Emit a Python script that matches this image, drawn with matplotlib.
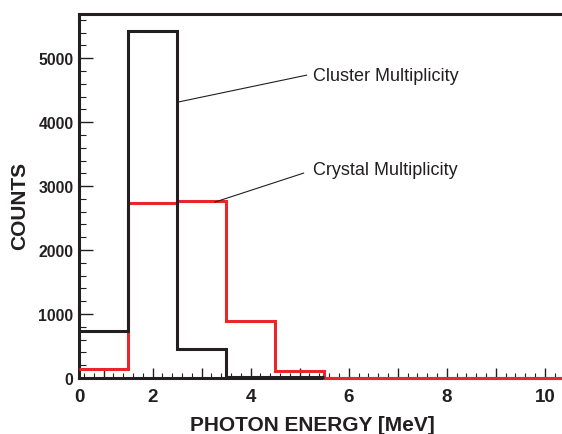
"""Photon energy spectra: cluster vs crystal multiplicity."""

import matplotlib
matplotlib.use("Agg")
import matplotlib.pyplot as plt
from matplotlib.ticker import MultipleLocator

plt.rcParams["font.family"] = ["Liberation Sans", "DejaVu Sans"]

INK = "#231f20"
RED = "#e8262c"

# histogram bins (MeV) and counts
cluster_edges = [0.5, 1.5, 2.5, 3.5, 4.5, 5.5]
cluster_counts = [740, 5420, 450, 18, 10]
crystal_edges = [0.5, 1.5, 2.5, 3.5, 4.5, 5.5, 6.5, 7.5, 8.5, 9.5, 10.5]
crystal_counts = [140, 2740, 2760, 890, 105, 8, 5, 3, 2, 1]

x_ticks = [0.5, 1, 2, 3, 4, 5, 6, 7, 8, 9, 10]
x_tick_labels = ["0", "", "2", "", "4", "", "6", "", "8", "", "10"]
y_ticks = [0, 1000, 2000, 3000, 4000, 5000]

fig = plt.figure(figsize=(5.62, 4.35), dpi=100)
ax = fig.add_axes([0.1406, 0.1287, 0.8594, 0.8368])

ax.set_xlim(0.5, 10.35)
ax.set_ylim(0, 5690)

red = ax.stairs(crystal_counts, crystal_edges, baseline=None, color=RED, lw=2.2, zorder=3)
blk = ax.stairs(cluster_counts, cluster_edges, baseline=None, color=INK, lw=2.2, zorder=4)
red.set_clip_on(False)
blk.set_clip_on(False)

ax.set_xticks(x_ticks)
ax.set_xticklabels(x_tick_labels)
ax.xaxis.set_minor_locator(MultipleLocator(0.2))
ax.set_yticks(y_ticks)
ax.yaxis.set_minor_locator(MultipleLocator(200))

ax.tick_params(axis="x", which="major", direction="in", length=7, width=1.0,
               colors=INK, labelsize=13.5, pad=7)
ax.tick_params(axis="x", which="minor", direction="in", length=3.5, width=0.8, colors=INK)
ax.tick_params(axis="y", which="major", direction="in", length=10, width=1.0,
               colors=INK, labelsize=11.4, pad=4)
ax.tick_params(axis="y", which="minor", direction="in", length=5, width=0.8, colors=INK)
for lbl in ax.get_xticklabels() + ax.get_yticklabels():
    lbl.set_fontweight("bold")

ax.spines["right"].set_visible(False)
for side in ("left", "bottom", "top"):
    ax.spines[side].set_linewidth(2.2)
    ax.spines[side].set_color(INK)

ax.set_xlabel("PHOTON ENERGY [MeV]", fontsize=15, fontweight="bold", color=INK)
ax.xaxis.set_label_coords(0.483, -0.101)
ax.set_ylabel("COUNTS", fontsize=15, fontweight="bold", color=INK)
ax.yaxis.set_label_coords(-0.104, 0.475)

# leader lines and labels
ax.plot([2.51, 5.14], [4312, 4734], color=INK, lw=0.8, zorder=5)
ax.text(5.27, 4656, "Cluster Multiplicity", fontsize=13, color=INK, va="baseline")
ax.plot([3.27, 5.08], [2750, 3203], color=INK, lw=0.8, zorder=5)
ax.text(5.27, 3187, "Crystal Multiplicity", fontsize=13, color=INK, va="baseline")

fig.savefig("out.png", dpi=100)
